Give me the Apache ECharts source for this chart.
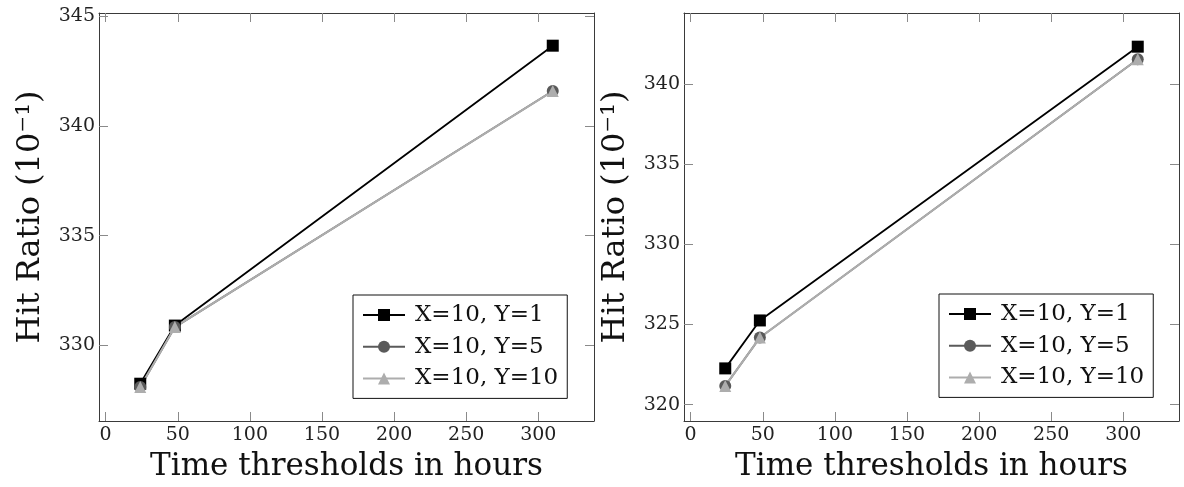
<!DOCTYPE html>
<html>
<head>
<meta charset="utf-8">
<script src="https://cdn.jsdelivr.net/npm/echarts@6/dist/echarts.min.js"></script>
<style>
  html, body { margin: 0; padding: 0; background: #fff; }
  #chart { width: 1184px; height: 487px; }
</style>
</head>
<body>
<div id="chart"></div>
<script>
// Time thresholds (hours) shared by both panels
const hours = [24, 48, 310];
const xTicks = [0, 50, 100, 150, 200, 250, 300];

// Series names
const names = ['X=10, Y=1', 'X=10, Y=5', 'X=10, Y=10'];

// Left panel: hit ratio (x10^-1)
const leftY1 = [328.25, 330.90, 343.66];
const leftY5 = [328.10, 330.83, 341.59];
const leftY10 = [328.10, 330.83, 341.59];
const leftTicks = [330, 335, 340, 345];

// Right panel: hit ratio (x10^-1)
const rightY1 = [322.26, 325.25, 342.32];
const rightY5 = [321.17, 324.18, 341.54];
const rightY10 = [321.17, 324.18, 341.54];
const rightTicks = [320, 325, 330, 335, 340];

const FONT = 'DejaVu Serif';
const FRAME = '#3a3a3a';
const TICK = '#8a8a8a';

const styles = [
  { symbol: 'rect', size: 12, color: '#000000', line: '#000000', width: 1.8 },
  { symbol: 'circle', size: 12, color: '#5a5a5a', line: '#5a5a5a', width: 1.8 },
  { symbol: 'triangle', size: 12, color: '#adadad', line: '#adadad', width: 2 }
];

function pairs(xs, ys) { return xs.map((x, i) => [x, ys[i]]); }

function xAxes(gridIndex) {
  const base = {
    type: 'value', gridIndex, min: -4.6, max: 338.6,
    splitLine: { show: false },
    axisLine: { show: true, onZero: false, lineStyle: { color: FRAME, width: 1 } },
    axisTick: { show: true, inside: true, length: 9, customValues: xTicks, lineStyle: { color: TICK, width: 1 } }
  };
  return [
    Object.assign({}, base, {
      position: 'bottom',
      name: 'Time thresholds in hours', nameLocation: 'middle', nameGap: 30,
      nameTextStyle: { fontFamily: FONT, fontSize: 31, color: '#111' },
      axisLabel: { show: true, customValues: xTicks, margin: 5, fontFamily: FONT, fontSize: 19, color: '#222' }
    }),
    Object.assign({}, base, { position: 'top', axisLabel: { show: false } })
  ];
}

function yAxes(gridIndex, min, max, ticks) {
  const base = {
    type: 'value', gridIndex, min, max,
    splitLine: { show: false },
    axisLine: { show: true, onZero: false, lineStyle: { color: FRAME, width: 1 } },
    axisTick: { show: true, inside: true, length: 9, customValues: ticks, lineStyle: { color: TICK, width: 1 } }
  };
  return [
    Object.assign({}, base, {
      position: 'left',
      name: 'Hit Ratio (10\u207B\u00B9)', nameLocation: 'middle', nameGap: 52, nameRotate: 90,
      nameTextStyle: { fontFamily: FONT, fontSize: 32, color: '#111' },
      axisLabel: { show: true, customValues: ticks, margin: 4, fontFamily: FONT, fontSize: 19, color: '#222' }
    }),
    Object.assign({}, base, { position: 'right', axisLabel: { show: false } })
  ];
}

function lineSeries(name, k, xi, yi, data) {
  const s = styles[k];
  return {
    name, type: 'line', xAxisIndex: xi, yAxisIndex: yi,
    data, symbol: s.symbol, symbolSize: s.size, showSymbol: true,
    itemStyle: { color: s.color, borderWidth: 0 },
    lineStyle: { color: s.line, width: s.width },
    emphasis: { disabled: true }, animation: false
  };
}

function legend(left, top) {
  return {
    data: names, orient: 'vertical', left, top,
    itemWidth: 42, itemHeight: 15, itemGap: 7.7,
    padding: [8, 9, 8, 9],
    borderColor: '#111', borderWidth: 1, backgroundColor: '#fff',
    textStyle: { fontFamily: FONT, fontSize: 23, color: '#111', lineHeight: 24, padding: [0, 0, 0, 5] },
    selectedMode: false
  };
}

const chart = echarts.init(document.getElementById('chart'), null, { renderer: 'canvas' });
chart.setOption({
  backgroundColor: '#ffffff',
  animation: false,
  grid: [
    { left: 99, top: 13, right: 590, bottom: 63 },
    { left: 684, top: 13, right: 5, bottom: 64 }
  ],
  xAxis: [].concat(xAxes(0), xAxes(1)),
  yAxis: [].concat(yAxes(0, 326.55, 345.15, leftTicks), yAxes(1, 318.98, 344.42, rightTicks)),
  legend: [legend(353, 295), legend(939, 294)],
  series: [
    lineSeries(names[0], 0, 0, 0, pairs(hours, leftY1)),
    lineSeries(names[1], 1, 0, 0, pairs(hours, leftY5)),
    lineSeries(names[2], 2, 0, 0, pairs(hours, leftY10)),
    lineSeries(names[0], 0, 2, 2, pairs(hours, rightY1)),
    lineSeries(names[1], 1, 2, 2, pairs(hours, rightY5)),
    lineSeries(names[2], 2, 2, 2, pairs(hours, rightY10))
  ]
});
</script>
</body>
</html>
